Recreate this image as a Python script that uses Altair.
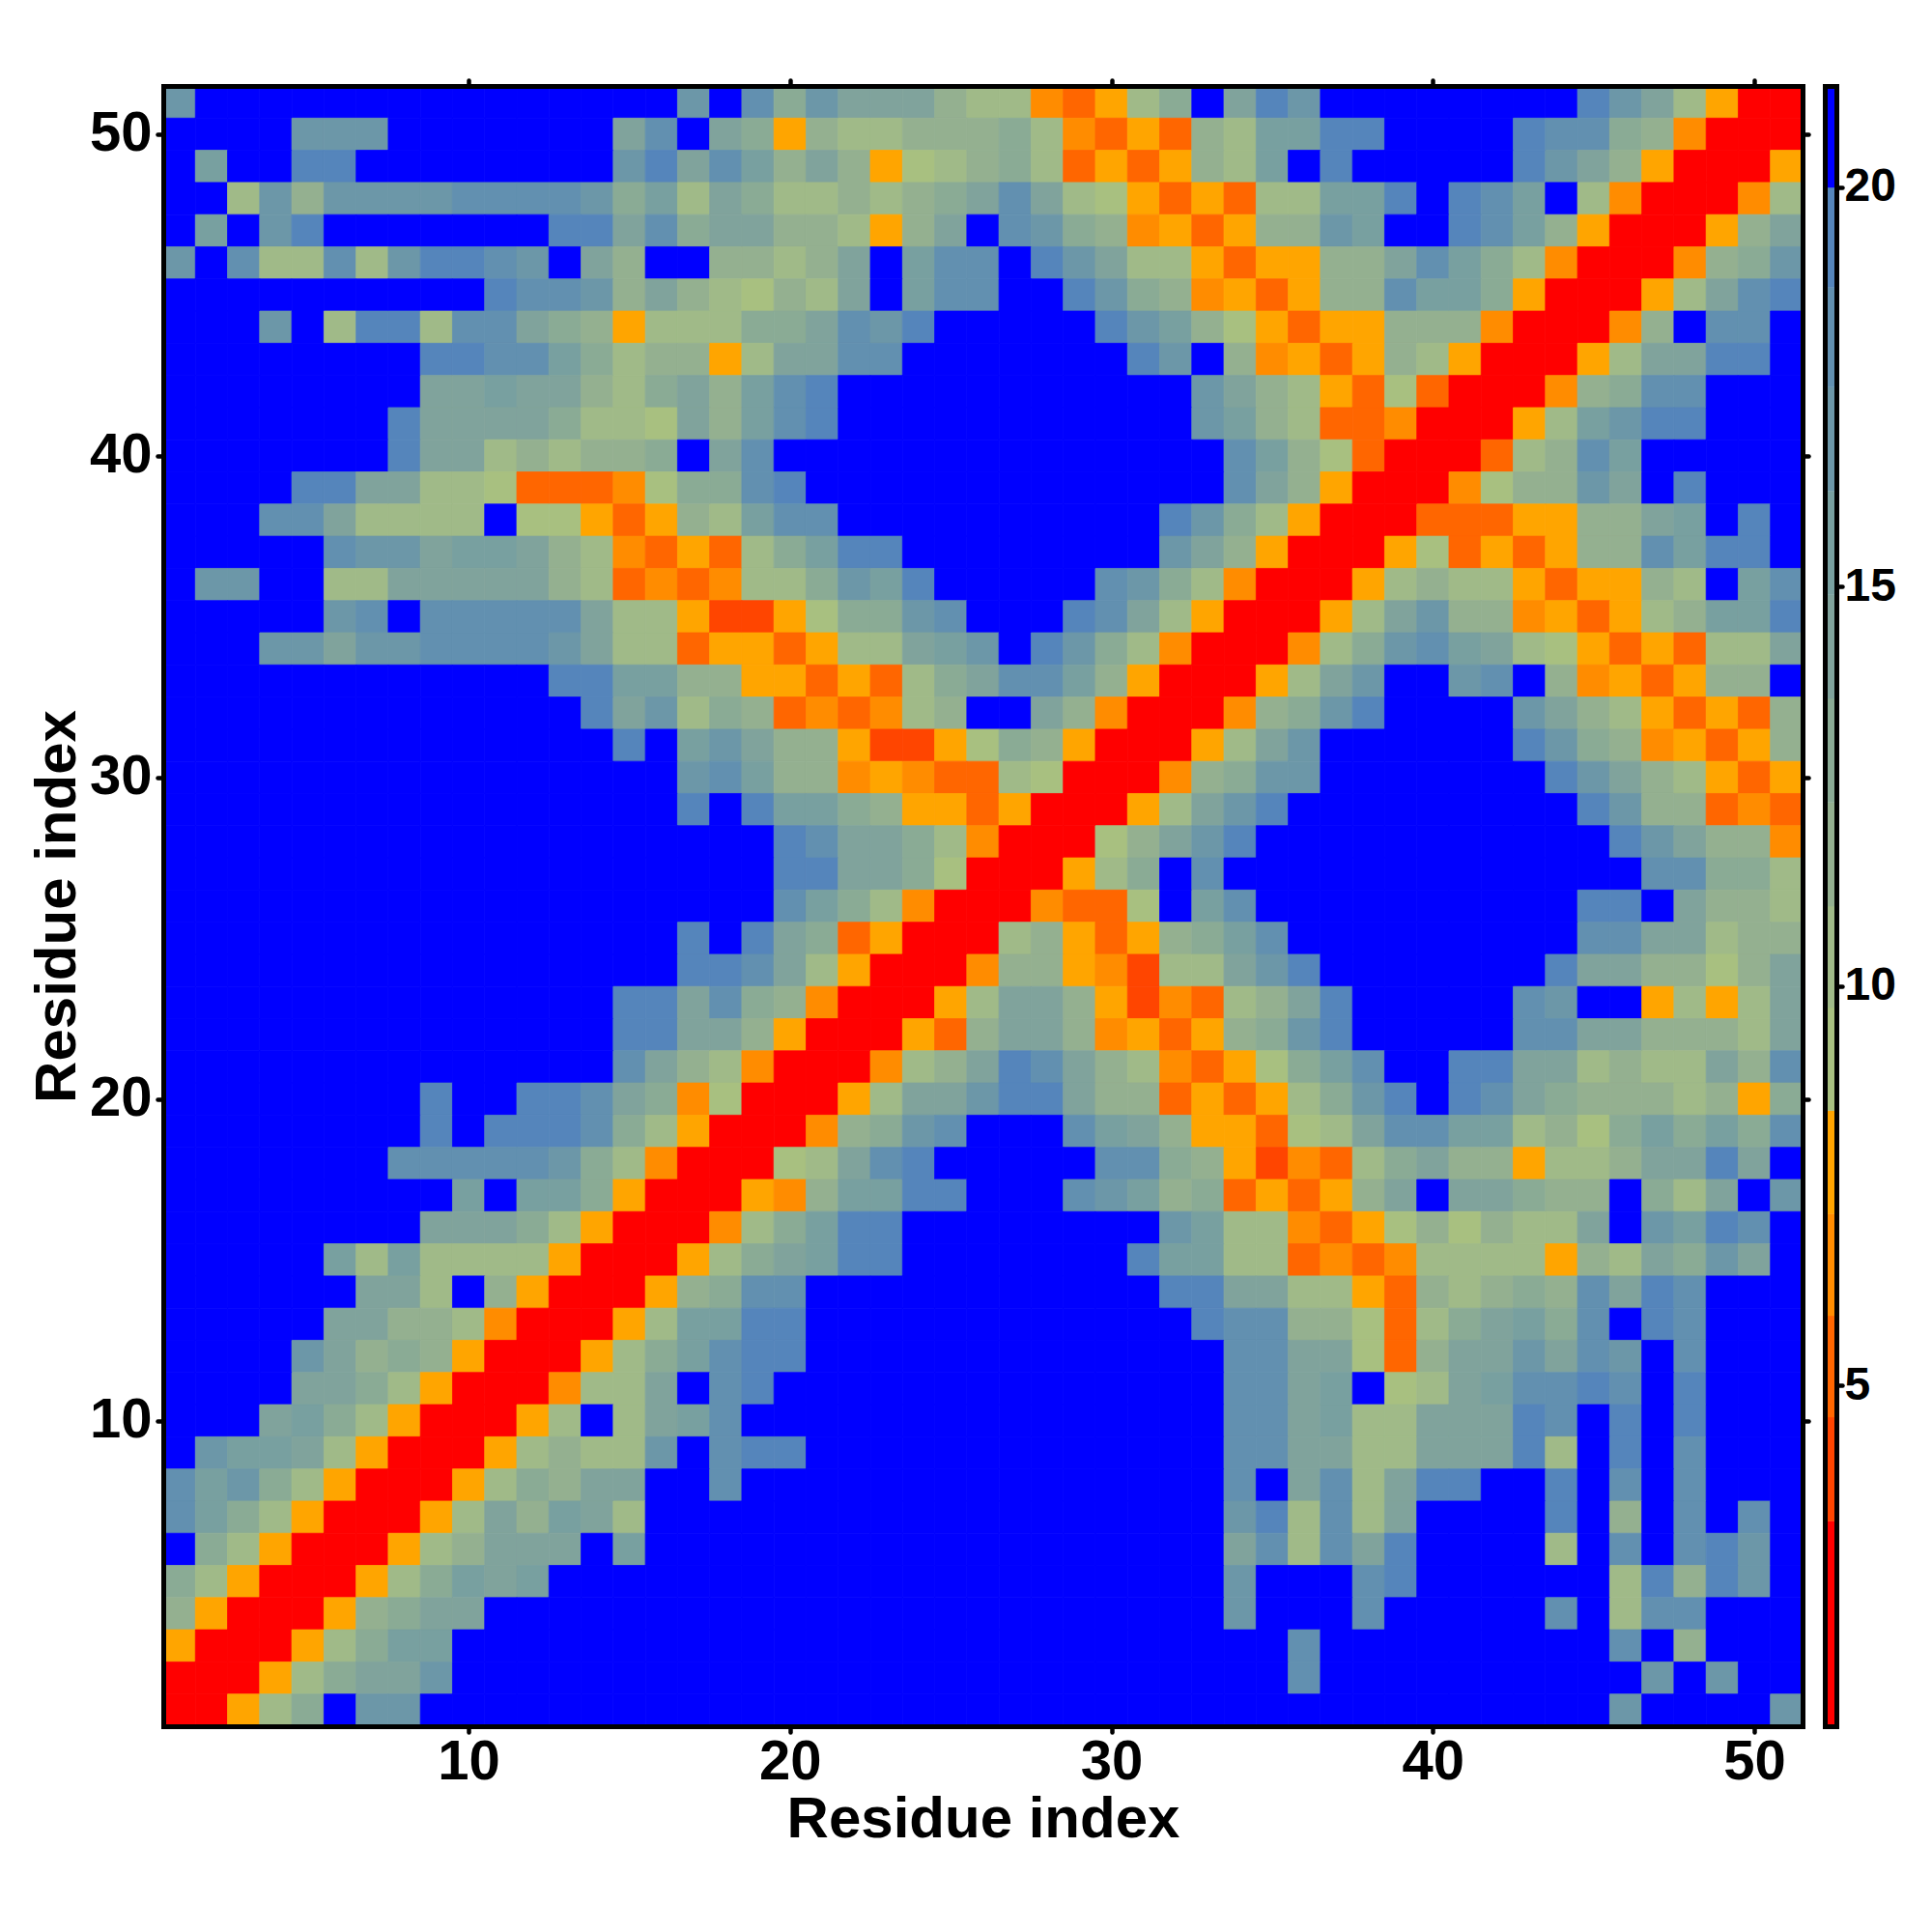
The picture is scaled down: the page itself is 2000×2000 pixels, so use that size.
import altair as alt
import pandas as pd

# Rows run from residue 51 (top) down to residue 1; every char is one cell, a distance class.
ROWS = [
"7bbbbbbbbb bbbbbb7b84 7555322poa 24b597bbbb bbbb9752arr",
"bbbb777bbb bbbb58b54a 32233342po ao326699bb bb98843prrr",
"b6bb99bbbb bbbb795863 53a12342oa oa326b9bbb bb9753arrra",
"bb27377778 8887462542 2323458521 aoao22669b 986b2prrrp2",
"b6b79bbbbb bb99584553 32a35b8743 paoa3376bb 9863arrra35",
"7b82282799 87b53bb332 35b688b975 22aoaa3358 642prrrp347",
"bbbbbbbbbb 9887353213 25b688bb97 43paoa3386 64arrra2589",
"bbb7b29928 8543a22244 5879bbbbb9 7631aoaa33 3prrrp3b88b",
"bbbbbbbb99 8864233a25 588bbbbbbb 97b3paoa32 arrra25599b",
"bbbbbbbb55 6553245368 9bbbbbbbbb bb7532ao1o rrrp3488bbb",
"bbbbbbb955 5542215368 9bbbbbbbbb bb7632oopr rra26799bbb",
"bbbbbbb955 232334b58b bbbbbbbbbb bbb8631orr ro2386bbbbb",
"bbbb995522 1ooop14489 bbbbbbbbbb bbb853arrr p13375b9bbb",
"bbb8852222 b11aoa3268 8bbbbbbbbb b9742arrro ooaa3356b9b",
"bbbbb87756 6532poao24 699bbbbbbb b753arrra1 oaoa338699b",
"b77bb22555 5532opop22 4769bbbbb8 742prrra23 22aoaa32b68",
"bbbbb78b88 888522adda 14478bbb98 52arrra257 33paoa23669",
"bbb7757788 887522oaao a22567b974 2prrrp2478 6521aoao225",
"bbbbbbbbbb bb996633aa oao2458863 arrra257bb 78b3paoa33b",
"bbbbbbbbbb bbb957243o pop23bb53p rrrp3479bb bb7532aoao3",
"bbbbbbbbbb bbbb9b6753 3adda143ar rra257bbbb bb9743paoa3",
"bbbbbbbbbb bbbbbb7863 3papoo21rr rp3477bbbb bbb97532aoa",
"bbbbbbbbbb bbbbbb9b96 643aaoarrr a2579bbbbb bbbb9733opo",
"bbbbbbbbbb bbbbbbbbb9 85542prrr1 3579bbbbbb bbbbb97533p",
"bbbbbbbbbb bbbbbbbbb9 95541rrra2 4b8bbbbbbb bbbbbb88442",
"bbbbbbbbbb bbbbbbbbb8 642prrrpoo 1b68bbbbbb bbbb99b5332",
"bbbbbbbbbb bbbbbb9b95 4oarrr23ao a3468bbbbb bbbb8855233",
"bbbbbbbbbb bbbbbb9985 2arrrp33ap d22579bbbb bbb95533135",
"bbbbbbbbbb bbbb995843 prrra2553a dpo2359bbb bb87bba2a25",
"bbbbbbbbbb bbbb99553a rrrao3553p aoa3479bbb bb885533325",
"bbbbbbbbbb bbbb8532pr rrp2359853 2poa1468bb 99552322538",
"bbbbbbbb9b b99854p1rr ra25579953 3oaoa2479b 985433323a4",
"bbbbbbbb9b 999842arrr p3478bbb86 53aao12588 66231464648",
"bbbbbbb888 88742prrr1 2589bbbbb8 843adpo245 33a2235595b",
"bbbbbbbbb6 b664arrrap 36699bbb87 634oaoa35b 55433b425b7",
"bbbbbbbb55 542arrrp24 699bbbbbbb b7622poa13 13225b7698b",
"bbbbb62622 22arrra245 699bbbbbbb 96622opop2 222a325475b",
"bbbbbb552b 3arrra3488 bbbbbbbbbb b995522ao3 23438598bbb",
"bbbbb55332 prrra26699 bbbbbbbbbb bb988331o2 45648b98bbb",
"bbbb75343a rrra246899 bbbbbbbbbb bbb88551o3 557587b8bbb",
"bbbb5542ar rrp225b89b bbbbbbbbbb bbb8856b12 568898b9bbb",
"bbb5642arr ra2b2568bb bbbbbbbbbb bbb8856225 5598b9b9bbb",
"b76652arrr a23227b899 bbbbbbbbbb bbb8855225 5592b9b8bbb",
"86742arrra 24355bb8bb bbbbbbbbbb bbb8b58259 9bb9b8b8bbb",
"8642arrra2 53652bbbbb bbbbbbbbbb bbb792825b bbb9b3b8b8b",
"b42arrra23 555b6bbbbb bbbbbbbbbb bbb582859b bbb2b8b897b",
"42arrra246 56bbbbbbbb bbbbbbbbbb bbb7bbb89b bbbbb29397b",
"3arrra3455 bbbbbbbbbb bbbbbbbbbb bbb7bbb8bb bbb8b288bbb",
"arrra2466b bbbbbbbbbb bbbbbbbbbb bbbbb8bbbb bbbbb8b3bbb",
"rrra24557b bbbbbbbbbb bbbbbbbbbb bbbbb8bbbb bbbbbb7b7bb",
"rra24b77bb bbbbbbbbbb bbbbbbbbbb bbbbbbbbbb bbbbb7bbbb7",
]

# Distance read for each class
CLASS_VALUE = {"r": 2.6, "d": 3.9, "o": 5.2, "p": 6.5, "a": 7.8, "1": 9.1, "2": 10.4,
               "3": 11.7, "4": 12.9, "5": 14.2, "6": 15.5, "7": 16.8, "8": 18.1,
               "9": 19.4, "b": 20.6}

BREAKS = [0.73, 2.0, 3.3, 4.6, 5.87, 7.15, 8.44, 9.73, 11.0, 12.3, 13.6, 14.9, 16.2, 17.5, 18.75, 20.0, 21.27]
COLORS = ["#ff0000", "#ff0000", "#ff4500", "#ff6600", "#ff8c00", "#ffa500",
          "#a8c080", "#a0ba88", "#94b090", "#8aab95", "#80a39c", "#78a0a0",
          "#6c97a8", "#6290b0", "#5585bb", "#0000ff"]
AXIS_TICKS = [10, 20, 30, 40, 50]
BAR_TICKS = [5, 10, 15, 20]
TITLE = "Residue index"
FONT = "Liberation Sans"

records = []
for n, row in enumerate(ROWS):
    cells = row.replace(" ", "")
    if len(cells) != 51:
        raise ValueError(f"row {51 - n} has {len(cells)} cells")
    for i, ch in enumerate(cells):
        records.append({"x0": i + 0.5, "x1": i + 1.5, "y0": 50.5 - n, "y1": 51.5 - n, "d": CLASS_VALUE[ch]})
cells_df = pd.DataFrame(records)

bar_df = pd.DataFrame({"x0": [0.0] * len(COLORS), "x1": [1.0] * len(COLORS),
                       "lo": BREAKS[:-1], "hi": BREAKS[1:],
                       "d": [(a + b) / 2 for a, b in zip(BREAKS[:-1], BREAKS[1:])]})

color_scale = alt.Scale(type="threshold", domain=BREAKS[1:-1], range=COLORS)
FRAME = 5
common = dict(grid=False, domainColor="black", domainWidth=FRAME, domainCap="square",
              tickColor="black", tickWidth=4.5, tickCap="round", zindex=1)
big = dict(labelFont=FONT, labelFontWeight="bold", labelFontSize=58, labelColor="black",
           titleFont=FONT, titleFontWeight="bold", titleFontSize=60, titleColor="black")
xs = alt.Scale(domain=[0.5, 51.5], nice=False, zero=False)

heat = alt.Chart(cells_df).mark_rect(strokeWidth=0.8).encode(
    x=alt.X("x0:Q", scale=xs, axis=alt.Axis(orient="bottom", values=AXIS_TICKS, format="d", title=TITLE,
                                             tickSize=6, labelPadding=2, titlePadding=1, **common, **big)),
    x2="x1:Q",
    y=alt.Y("y0:Q", scale=xs, axis=alt.Axis(orient="left", values=AXIS_TICKS, format="d", title=TITLE,
                                             tickSize=6, labelPadding=6, titlePadding=2, **common, **big)),
    y2="y1:Q",
    color=alt.Color("d:Q", scale=color_scale, legend=None),
    stroke=alt.Stroke("d:Q", scale=color_scale, legend=None),
)
heat_axes = alt.Chart(cells_df.head(1)).mark_rect(opacity=0).encode(
    x=alt.X("x0:Q", scale=xs, axis=alt.Axis(orient="top", values=AXIS_TICKS, labels=False, title=None, tickSize=6, **common)),
    x2="x1:Q",
    y=alt.Y("y0:Q", scale=xs, axis=alt.Axis(orient="right", values=AXIS_TICKS, labels=False, title=None, tickSize=6, **common)),
    y2="y1:Q",
)
left = alt.layer(heat, heat_axes).resolve_axis(x="independent", y="independent").properties(width=1697, height=1698)

bs = alt.Scale(domain=[BREAKS[0], BREAKS[-1]], nice=False, zero=False)
bx = alt.Scale(domain=[0, 1], nice=False, zero=False)
bar = alt.Chart(bar_df).mark_rect(strokeWidth=0.4).encode(
    x=alt.X("x0:Q", scale=bx, axis=alt.Axis(orient="bottom", values=[], labels=False, ticks=False, title=None, **common)),
    x2="x1:Q",
    y=alt.Y("lo:Q", scale=bs, axis=alt.Axis(orient="right", values=BAR_TICKS, format="d", title=None, tickSize=6,
                                             labelPadding=2, labelFont=FONT, labelFontWeight="bold", labelFontSize=48,
                                             labelColor="black", **common)),
    y2="hi:Q",
    color=alt.Color("d:Q", scale=color_scale, legend=None),
    stroke=alt.Stroke("d:Q", scale=color_scale, legend=None),
)
bar_axes = alt.Chart(bar_df.head(1)).mark_rect(opacity=0).encode(
    x=alt.X("x0:Q", scale=bx, axis=alt.Axis(orient="top", values=[], labels=False, ticks=False, title=None, **common)),
    x2="x1:Q",
    y=alt.Y("lo:Q", scale=bs, axis=alt.Axis(orient="left", values=[], labels=False, ticks=False, title=None, **common)),
    y2="hi:Q",
)
right = alt.layer(bar, bar_axes).resolve_axis(x="independent", y="independent").properties(width=12, height=1698)

chart = alt.hconcat(left, right, spacing=13).resolve_scale(color="shared", stroke="shared").properties(
    padding={"left": 21, "top": 72, "right": 0, "bottom": 0}, background="white"
).configure_view(stroke=None)

chart.save("out.html", embed_options={"renderer": "svg", "actions": False})
